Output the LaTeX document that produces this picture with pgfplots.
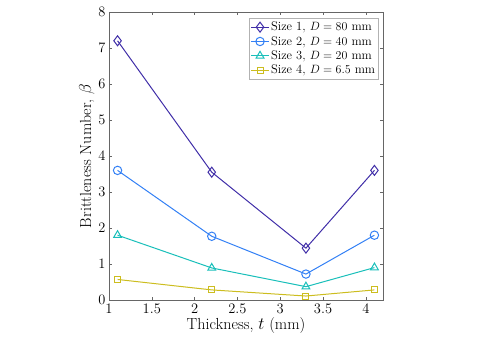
\documentclass[border=0pt]{standalone}
\usepackage{pgfplots}
\pgfplotsset{compat=1.18}
\definecolor{c1}{rgb}{0.25,0.18,0.66}
\definecolor{c2}{rgb}{0.20,0.50,0.96}
\definecolor{c3}{rgb}{0.10,0.75,0.73}
\definecolor{c4}{rgb}{0.80,0.74,0.12}
\begin{document}
\begin{tikzpicture}
\begin{axis}[
    scale only axis,
    width=274pt, height=288pt,
    xmin=1, xmax=4.2, ymin=0, ymax=8,
    xtick={1,1.5,2,2.5,3,3.5,4},
    ytick={0,1,2,3,4,5,6,7,8},
    xticklabels={1,1.5,2,2.5,3,3.5,4},
    tick align=inside,
    major tick length=3pt,
    axis line style={gray!80!black},
    tick style={gray!80!black, line width=0.4pt},
    ticklabel style={font=\fontsize{14.5}{15}\selectfont},
    label style={font=\fontsize{16}{17}\selectfont},
    xlabel={Thickness, $t$ (mm)},
    ylabel={Brittleness Number, $\beta$},
    xlabel style={yshift=3pt},
    ylabel style={yshift=-3pt},
    legend pos=north east,
    legend style={font=\fontsize{12.5}{13}\selectfont, draw=gray!60, inner sep=1.5pt, row sep=0pt, legend cell align=left, at={(0.985,0.978)}},
    every axis plot/.append style={line width=1pt},
    clip=false,
]
\addplot[color=c1, mark=diamond, mark size=5pt, mark options={solid, draw=c1, fill=white, line width=1pt}] coordinates {(1.1,7.2) (2.2,3.55) (3.3,1.44) (4.1,3.6)};
\addlegendentry{Size 1, $D=80$ mm}
\addplot[color=c2, mark=o, mark size=4.2pt, mark options={solid, draw=c2, fill=white, line width=1pt}] coordinates {(1.1,3.6) (2.2,1.77) (3.3,0.72) (4.1,1.8)};
\addlegendentry{Size 2, $D=40$ mm}
\addplot[color=c3, mark=triangle, mark size=4.5pt, mark options={solid, draw=c3, fill=white, line width=1pt}] coordinates {(1.1,1.8) (2.2,0.89) (3.3,0.37) (4.1,0.9)};
\addlegendentry{Size 3, $D=20$ mm}
\addplot[color=c4, mark=square, mark size=3pt, mark options={solid, draw=c4, fill=white, line width=1pt}] coordinates {(1.1,0.57) (2.2,0.28) (3.3,0.11) (4.1,0.28)};
\addlegendentry{Size 4, $D=6.5$ mm}
\path ([xshift=-109pt,yshift=-40pt]rel axis cs:0,0) rectangle ([xshift=96pt,yshift=12pt]rel axis cs:1,1);
\end{axis}
\end{tikzpicture}
\end{document}
